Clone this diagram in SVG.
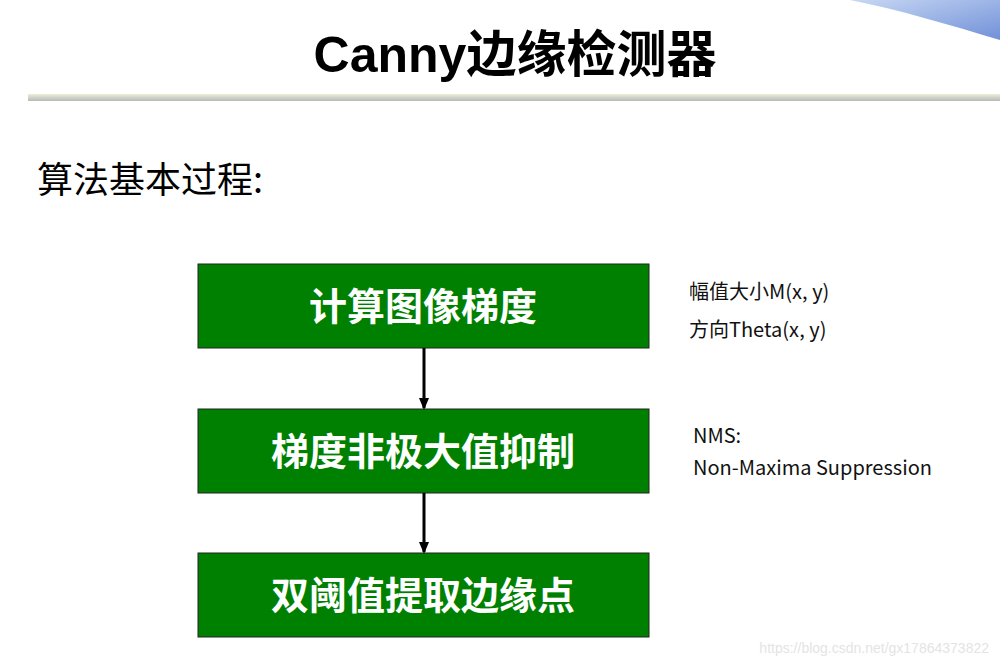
<svg xmlns="http://www.w3.org/2000/svg" width="1000" height="665" viewBox="0 0 1000 665">
<defs>
<style>
.box{fill:#008000;stroke:#222;stroke-width:1}
.bt{font-family:"Noto Sans CJK SC",sans-serif;font-weight:bold;font-size:38px;fill:#fff;text-anchor:middle}
.note{font-family:"Noto Sans CJK SC",sans-serif;font-size:20px;fill:#111}
.conn{stroke:#000;stroke-width:3;fill:none;marker-end:url(#ah)}
</style>
<marker id="ah" markerWidth="12" markerHeight="10" refX="10" refY="5" orient="auto" markerUnits="userSpaceOnUse"><path d="M0,0 L12,5 L0,10 Z" fill="#000"/></marker>
<linearGradient id="ul" x1="0" y1="0" x2="0" y2="1"><stop offset="0" stop-color="#e8f0d8"/><stop offset="1" stop-color="#b8b8b8"/></linearGradient>
<linearGradient id="sw" x1="0" y1="0" x2="1" y2="1"><stop offset="0" stop-color="#c8d8f4"/><stop offset="1" stop-color="#7090d8"/></linearGradient>
</defs>
<rect width="1000" height="665" fill="#fff"/>
<path d="M850,0 C900,10 950,25 1000,40 L1000,0 Z" fill="url(#sw)"/>
<text x="515" y="72" font-family="'Liberation Sans','Noto Sans CJK SC',sans-serif" font-weight="bold" font-size="50" text-anchor="middle" fill="#000">Canny边缘检测器</text>
<rect x="28" y="94" width="972" height="7" fill="url(#ul)"/>
<text x="37" y="193" font-family="'Noto Sans CJK SC',sans-serif" font-size="36" fill="#000">算法基本过程:</text>
<g id="n1"><rect class="box" x="198" y="264" width="451" height="84"/><text class="bt" x="423" y="320">计算图像梯度</text></g>
<g id="n2"><rect class="box" x="198" y="409" width="451" height="84"/><text class="bt" x="423" y="465">梯度非极大值抑制</text></g>
<g id="n3"><rect class="box" x="198" y="553" width="451" height="84"/><text class="bt" x="423" y="609">双阈值提取边缘点</text></g>
<g id="connectors">
<line class="conn" x1="424" y1="348" x2="424" y2="408"/>
<line class="conn" x1="424" y1="493" x2="424" y2="552"/>
</g>
<text class="note" x="689" y="299">幅值大小M(x, y)</text>
<text class="note" x="689" y="337">方向Theta(x, y)</text>
<text class="note" x="693" y="443">NMS:</text>
<text class="note" x="693" y="475">Non-Maxima Suppression</text>
<text x="989" y="653" font-family="'Liberation Sans',sans-serif" font-size="14" fill="#e4e4e4" text-anchor="end">https://blog.csdn.net/gx17864373822</text>
</svg>
